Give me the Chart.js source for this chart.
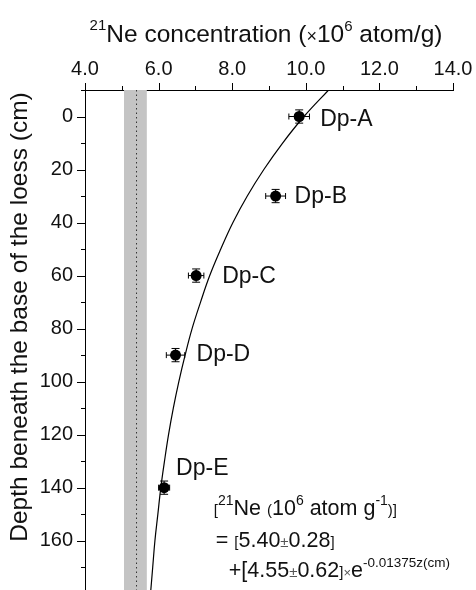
<!DOCTYPE html>
<html>
<head>
<meta charset="utf-8">
<script src="https://cdn.jsdelivr.net/npm/chart.js@4.4.0/dist/chart.umd.min.js"></script>
<style>
  body { margin: 0; background: #fff; }
  #wrap { width: 476px; height: 590px; }
</style>
</head>
<body>
<div id="wrap"><canvas id="chart" width="476" height="590"></canvas></div>
<script>
// dados
const sampleNames = ['Dp-A', 'Dp-B', 'Dp-C', 'Dp-D', 'Dp-E'];
const sampleDepth = [0, 30, 60, 90, 140];
const sampleNe = [9.82, 9.18, 7.02, 6.46, 6.15];
const sampleNeErr = [0.28, 0.27, 0.21, 0.25, 0.15];
const sampleDepthErr = [2.5, 2.5, 2.5, 2.5, 2.5];

// curva ajustada
const curveDepth = [-10, 0, 10, 20, 30, 40, 50, 60, 70, 80, 90, 100, 110, 120, 130, 140, 150, 160, 170, 180];
const curveNe = [10.62, 9.95, 9.37, 8.86, 8.41, 8.02, 7.69, 7.39, 7.14, 6.91, 6.72, 6.55, 6.40, 6.27, 6.16, 6.06, 5.98, 5.90, 5.84, 5.78];

// faixa cinza e linha pontilhada
const bandNe = [5.06, 5.68];
const baseNe = 5.40;

// ticks
const xTicks = [4, 6, 8, 10, 12, 14];
const xMinorTicks = [5, 7, 9, 11, 13];
const yTicks = [0, 20, 40, 60, 80, 100, 120, 140, 160];
const yMinorTicks = [-10, 10, 30, 50, 70, 90, 110, 130, 150, 170];

const FONT = '"Liberation Sans", Arial, sans-serif';

// desenha texto com sobrescritos
function drawRuns(ctx, x, y, runs, align) {
    let total = 0;
    runs.forEach(r => {
        ctx.font = r.s + 'px ' + FONT;
        r.w = ctx.measureText(r.t).width;
        total += r.w;
    });
    let cx = align === 'center' ? x - total / 2 : x;
    ctx.textAlign = 'left';
    ctx.textBaseline = 'alphabetic';
    runs.forEach(r => {
        ctx.font = r.s + 'px ' + FONT;
        ctx.fillStyle = r.c || '#111';
        ctx.fillText(r.t, cx, y + (r.dy || 0));
        cx += r.w;
    });
}

function noPad(s) {
    s.paddingLeft = 0; s.paddingRight = 0; s.paddingTop = 0; s.paddingBottom = 0;
}

const decorPlugin = {
    id: 'decor',
    beforeDatasetsDraw(chart) {
        const ctx = chart.ctx;
        const xs = chart.scales.x, ys = chart.scales.y;
        const area = chart.chartArea;
        ctx.save();
        // faixa cinza
        const x0 = xs.getPixelForValue(bandNe[0]);
        const x1 = xs.getPixelForValue(bandNe[1]);
        ctx.fillStyle = '#c4c4c4';
        ctx.fillRect(x0, area.top, x1 - x0, area.bottom - area.top);
        // linha pontilhada
        const xb = xs.getPixelForValue(baseNe);
        ctx.strokeStyle = '#333';
        ctx.lineWidth = 1;
        ctx.setLineDash([1.5, 3]);
        ctx.beginPath();
        ctx.moveTo(xb, area.top);
        ctx.lineTo(xb, area.bottom);
        ctx.stroke();
        ctx.setLineDash([]);

        // barras de erro
        ctx.strokeStyle = '#000';
        ctx.lineWidth = 1;
        for (let i = 0; i < sampleNe.length; i++) {
            const px = xs.getPixelForValue(sampleNe[i]);
            const py = ys.getPixelForValue(sampleDepth[i]);
            const xl = xs.getPixelForValue(sampleNe[i] - sampleNeErr[i]);
            const xr = xs.getPixelForValue(sampleNe[i] + sampleNeErr[i]);
            const yt = ys.getPixelForValue(sampleDepth[i] - sampleDepthErr[i]);
            const yb = ys.getPixelForValue(sampleDepth[i] + sampleDepthErr[i]);
            ctx.beginPath();
            ctx.moveTo(xl, py); ctx.lineTo(xr, py);
            ctx.moveTo(xl, py - 3); ctx.lineTo(xl, py + 3);
            ctx.moveTo(xr, py - 3); ctx.lineTo(xr, py + 3);
            ctx.moveTo(px, yt); ctx.lineTo(px, yb);
            ctx.moveTo(px - 4, yt); ctx.lineTo(px + 4, yt);
            ctx.moveTo(px - 4, yb); ctx.lineTo(px + 4, yb);
            ctx.stroke();
        }
        ctx.restore();
    },
    afterDraw(chart) {
        const ctx = chart.ctx;
        const xs = chart.scales.x, ys = chart.scales.y;
        const area = chart.chartArea;
        ctx.save();
        // ticks maiores e menores
        ctx.strokeStyle = '#000';
        ctx.lineWidth = 1;
        ctx.beginPath();
        xTicks.forEach(v => {
            const p = Math.round(xs.getPixelForValue(v)) + 0.5;
            ctx.moveTo(p, area.top); ctx.lineTo(p, area.top - 7);
        });
        xMinorTicks.forEach(v => {
            const p = Math.round(xs.getPixelForValue(v)) + 0.5;
            ctx.moveTo(p, area.top); ctx.lineTo(p, area.top - 4);
        });
        yTicks.forEach(v => {
            const p = Math.round(ys.getPixelForValue(v)) + 0.5;
            ctx.moveTo(area.left, p); ctx.lineTo(area.left - 8, p);
        });
        yMinorTicks.forEach(v => {
            const p = Math.round(ys.getPixelForValue(v)) + 0.5;
            ctx.moveTo(area.left, p); ctx.lineTo(area.left - 4, p);
        });
        ctx.stroke();

        // rótulos das amostras
        const offsets = [[21, 3], [19, 1], [26, 1], [21, 0], [12, -19]];
        ctx.font = '23px ' + FONT;
        ctx.fillStyle = '#111';
        ctx.textAlign = 'left';
        ctx.textBaseline = 'middle';
        sampleNames.forEach((n, i) => {
            const px = xs.getPixelForValue(sampleNe[i]);
            const py = ys.getPixelForValue(sampleDepth[i]);
            ctx.fillText(n, px + offsets[i][0], py + offsets[i][1]);
        });

        // título do eixo x
        drawRuns(ctx, (area.left + area.right) / 2 - 3, 42, [
            { t: '21', s: 15, dy: -12 },
            { t: 'Ne concentration (', s: 24.5 },
            { t: '×', s: 18 },
            { t: '10', s: 24.5 },
            { t: '6', s: 15, dy: -11 },
            { t: ' atom/g)', s: 24.5 }
        ], 'center');

        // título do eixo y
        ctx.save();
        ctx.translate(27, 317);
        ctx.rotate(-Math.PI / 2);
        ctx.font = '24.5px ' + FONT;
        ctx.fillStyle = '#111';
        ctx.textAlign = 'center';
        ctx.textBaseline = 'alphabetic';
        ctx.fillText('Depth beneath the base of the loess (cm)', 0, 0);
        ctx.restore();

        // equação
        const ex = xs.getPixelForValue(7.5);
        const ey = ys.getPixelForValue(150.3);
        drawRuns(ctx, ex, ey, [
            { t: '[', s: 15 },
            { t: '21', s: 14, dy: -10 },
            { t: 'Ne ', s: 21.5 },
            { t: '(', s: 15 },
            { t: '10', s: 21.5 },
            { t: '6', s: 14, dy: -10 },
            { t: ' atom g', s: 21.5 },
            { t: '-1', s: 14, dy: -10 },
            { t: ')]', s: 15 }
        ]);
        drawRuns(ctx, ex + 2, ey + 32, [
            { t: '= ', s: 21.5 },
            { t: '[', s: 15 },
            { t: '5.40', s: 21.5 },
            { t: '±', s: 15, c: '#555' },
            { t: '0.28', s: 21.5 },
            { t: ']', s: 15 }
        ]);
        drawRuns(ctx, ex + 15, ey + 62, [
            { t: '+[4.55', s: 21.5 },
            { t: '±', s: 15, c: '#555' },
            { t: '0.62', s: 21.5 },
            { t: ']', s: 15 },
            { t: '×', s: 13, c: '#555' },
            { t: 'e', s: 21.5 },
            { t: '-0.01375z(cm)', s: 13.5, dy: -10 }
        ]);
        ctx.restore();
    }
};

const ctx = document.getElementById('chart').getContext('2d');
new Chart(ctx, {
    type: 'scatter',
    data: {
        datasets: [{
            label: 'fit',
            data: curveDepth.map((d, i) => ({ x: curveNe[i], y: d })),
            showLine: true,
            borderColor: '#000',
            borderWidth: 1.2,
            pointRadius: 0,
            tension: 0.4,
            fill: false
        }, {
            label: 'samples',
            data: sampleDepth.map((d, i) => ({ x: sampleNe[i], y: d })),
            pointRadius: 5.5,
            backgroundColor: '#000',
            borderColor: '#000',
            borderWidth: 0
        }]
    },
    options: {
        responsive: false,
        animation: false,
        layout: { autoPadding: false, padding: { left: 0, right: 23, top: 0, bottom: 0 } },
        plugins: { legend: { display: false }, tooltip: { enabled: false } },
        scales: {
            x: {
                type: 'linear',
                position: 'top',
                min: 4,
                max: 14,
                afterBuildTicks: s => { s.ticks = xTicks.map(v => ({ value: v })); },
                afterFit: s => { s.height = 90; noPad(s); },
                ticks: {
                    padding: 9,
                    color: '#111',
                    font: { family: FONT, size: 20 },
                    callback: v => v.toFixed(1)
                },
                grid: { display: true, drawOnChartArea: false, drawTicks: false },
                border: { display: true, color: '#000', width: 1 }
            },
            y: {
                type: 'linear',
                reverse: true,
                min: -10,
                max: 178.6,
                afterBuildTicks: s => { s.ticks = yTicks.map(v => ({ value: v })); },
                afterFit: s => { s.width = 85; noPad(s); },
                ticks: {
                    padding: 12,
                    color: '#111',
                    font: { family: FONT, size: 20 },
                    callback: v => String(v)
                },
                grid: { display: true, drawOnChartArea: false, drawTicks: false },
                border: { display: true, color: '#000', width: 1 }
            }
        }
    },
    plugins: [decorPlugin]
});
</script>
</body>
</html>
